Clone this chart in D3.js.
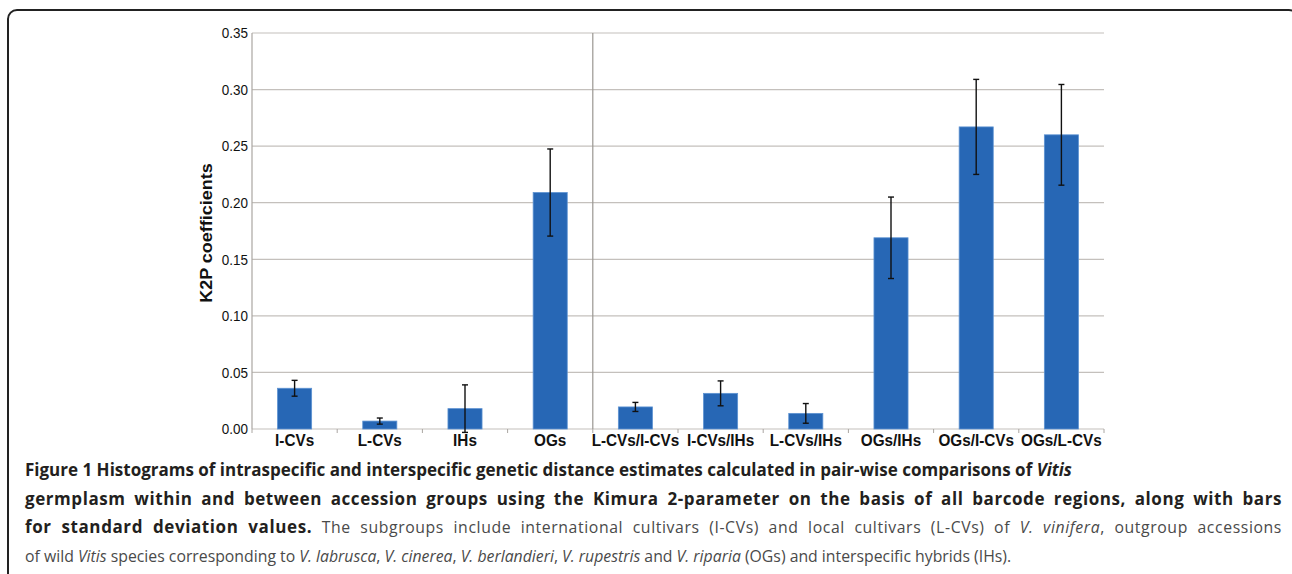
<!DOCTYPE html>
<html>
<head>
<meta charset="utf-8">
<script src="https://d3js.org/d3.v7.min.js"></script>
<style>
  body { margin: 0; background: #fff; }
  svg { display: block; }
  .tick-label { font: 15px "Liberation Sans", Arial, sans-serif; fill: #111; }
  .cat-label { font: bold 17px "Liberation Sans", Arial, sans-serif; fill: #111; }
  .y-title { font: bold 18px "Liberation Sans", Arial, sans-serif; fill: #111; }
  .cap { font-family: "Open Sans", sans-serif; }
  .cap-b { font-weight: bold; fill: #231f20; font-size: 17px; }
  .cap-r { fill: #4a4a4a; font-size: 15.8px; }
</style>
</head>
<body>
<svg width="1292" height="574"></svg>
<script>
// groups compared (within groups, then between groups)
var categories = ["I-CVs", "L-CVs", "IHs", "OGs", "L-CVs/I-CVs", "I-CVs/IHs", "L-CVs/IHs", "OGs/IHs", "OGs/I-CVs", "OGs/L-CVs"];
// mean K2P distance
var means = [0.036, 0.007, 0.018, 0.209, 0.0195, 0.0315, 0.0138, 0.169, 0.267, 0.260];
// standard deviation
var sds = [0.007, 0.0027, 0.021, 0.0385, 0.004, 0.011, 0.0087, 0.036, 0.042, 0.0445];
var yTicks = [0, 0.05, 0.10, 0.15, 0.20, 0.25, 0.30, 0.35];

(function () {
var svg = d3.select("svg");

// figure frame
svg.append("rect")
  .attr("x", 8).attr("y", 10)
  .attr("width", 1290).attr("height", 600)
  .attr("rx", 9)
  .attr("fill", "none")
  .attr("stroke", "#222")
  .attr("stroke-width", 2);

var pLeft = 252, pRight = 1104, pTop = 33, pBottom = 429;

var x = d3.scaleBand()
  .domain(categories)
  .range([pLeft, pRight])
  .paddingInner(0.6)
  .paddingOuter(0.3);

var y = d3.scaleLinear()
  .domain([0, 0.35])
  .range([pBottom, pTop]);

var data = categories.map(function (c, i) {
  return { name: c, mean: means[i], sd: sds[i] };
});

// gridlines
svg.append("g")
  .selectAll("line")
  .data(yTicks)
  .enter().append("line")
  .attr("x1", pLeft).attr("x2", pRight)
  .attr("y1", function (d) { return y(d); })
  .attr("y2", function (d) { return y(d); })
  .attr("stroke", "#c4c0bc")
  .attr("stroke-width", 1.2);

// y axis line
svg.append("line")
  .attr("x1", pLeft).attr("x2", pLeft)
  .attr("y1", pTop).attr("y2", pBottom)
  .attr("stroke", "#aaa6a2").attr("stroke-width", 1.2);

// separator between within- and between-group comparisons
var sepX = pLeft + x.step() * 4;
svg.append("line")
  .attr("x1", sepX).attr("x2", sepX)
  .attr("y1", pTop).attr("y2", pBottom)
  .attr("stroke", "#9a9692").attr("stroke-width", 1.2);

// small category ticks under the axis
svg.append("g")
  .selectAll("line")
  .data(d3.range(categories.length + 1))
  .enter().append("line")
  .attr("x1", function (i) { return pLeft + i * x.step(); })
  .attr("x2", function (i) { return pLeft + i * x.step(); })
  .attr("y1", pBottom).attr("y2", pBottom + 4)
  .attr("stroke", "#aaa6a2");

// y tick labels
svg.append("g")
  .selectAll("text")
  .data(yTicks)
  .enter().append("text")
  .attr("class", "tick-label")
  .attr("text-anchor", "end")
  .attr("dy", "0.35em")
  .attr("transform", function (d) { return "translate(248," + y(d) + ") scale(0.9,1)"; })
  .text(function (d) { return d3.format(".2f")(d); });

// y axis title
svg.append("text")
  .attr("class", "y-title")
  .attr("text-anchor", "middle")
  .attr("transform", "translate(212,233) scale(0.9,1) rotate(-90)")
  .text("K2P coefficients");

// bars
svg.append("g")
  .selectAll("rect")
  .data(data)
  .enter().append("rect")
  .attr("x", function (d) { return x(d.name); })
  .attr("width", x.bandwidth())
  .attr("y", function (d) { return y(d.mean); })
  .attr("height", function (d) { return y(0) - y(d.mean); })
  .attr("fill", "#2767b5")
  .attr("stroke", "#5d92d2")
  .attr("stroke-width", 0.8);

// error bars
var err = svg.append("g").selectAll("g").data(data).enter().append("g")
  .attr("stroke", "#111").attr("stroke-width", 1.4);
err.append("line")
  .attr("x1", function (d) { return x(d.name) + x.bandwidth() / 2; })
  .attr("x2", function (d) { return x(d.name) + x.bandwidth() / 2; })
  .attr("y1", function (d) { return y(d.mean + d.sd); })
  .attr("y2", function (d) { return y(d.mean - d.sd); });
[1, -1].forEach(function (s) {
  err.append("line")
    .attr("x1", function (d) { return x(d.name) + x.bandwidth() / 2 - 3; })
    .attr("x2", function (d) { return x(d.name) + x.bandwidth() / 2 + 3; })
    .attr("y1", function (d) { return y(d.mean + s * d.sd); })
    .attr("y2", function (d) { return y(d.mean + s * d.sd); });
});

// category labels
svg.append("g")
  .selectAll("text")
  .data(categories)
  .enter().append("text")
  .attr("class", "cat-label")
  .attr("text-anchor", "middle")
  .attr("transform", function (d) { return "translate(" + (x(d) + x.bandwidth() / 2) + ",446) scale(0.9,1)"; })
  .text(function (d) { return d; });

// caption, lines 2 and 3 are justified to the right margin
var capLines = [
  [["b", "Figure 1"], ["b", " Histograms of intraspecific and interspecific genetic distance estimates calculated in pair-wise comparisons of "], ["bi", "Vitis"]],
  [["b", "germplasm within and between accession groups using the Kimura 2-parameter on the basis of all barcode regions, along with bars"]],
  [["b", "for standard deviation values."], ["r", " The subgroups include international cultivars (I-CVs) and local cultivars (L-CVs) of "], ["ri", "V. vinifera"], ["r", ", outgroup accessions"]],
  [["r", "of wild "], ["ri", "Vitis"], ["r", " species corresponding to "], ["ri", "V. labrusca"], ["r", ", "], ["ri", "V. cinerea"], ["r", ", "], ["ri", "V. berlandieri"], ["r", ", "], ["ri", "V. rupestris"], ["r", " and "], ["ri", "V. riparia"], ["r", " (OGs) and interspecific hybrids (IHs)."]]
];
var justify = [false, true, true, false];
capLines.forEach(function (line, i) {
  var t = svg.append("text")
    .attr("class", "cap")
    .attr("x", 25)
    .attr("y", 476 + i * 28.5)
    .attr("xml:space", "preserve");
  line.forEach(function (seg) {
    t.append("tspan")
      .attr("class", seg[0].charAt(0) === "b" ? "cap-b" : "cap-r")
      .style("font-style", seg[0].length > 1 ? "italic" : "normal")
      .text(seg[1]);
  });
  if (justify[i]) {
    // share the slack between letters and word gaps
    var str = line.map(function (s) { return s[1]; }).join("");
    var slack = 1282 - 25 - t.node().getComputedTextLength();
    var spaces = str.split(" ").length - 1;
    var ls = slack * 0.5 / (str.length - 1);
    t.attr("letter-spacing", ls);
    var w2 = t.node().getComputedTextLength();
    t.attr("word-spacing", (1282 - 25 - w2) / spaces);
  }
});
})();
</script>
</body>
</html>
